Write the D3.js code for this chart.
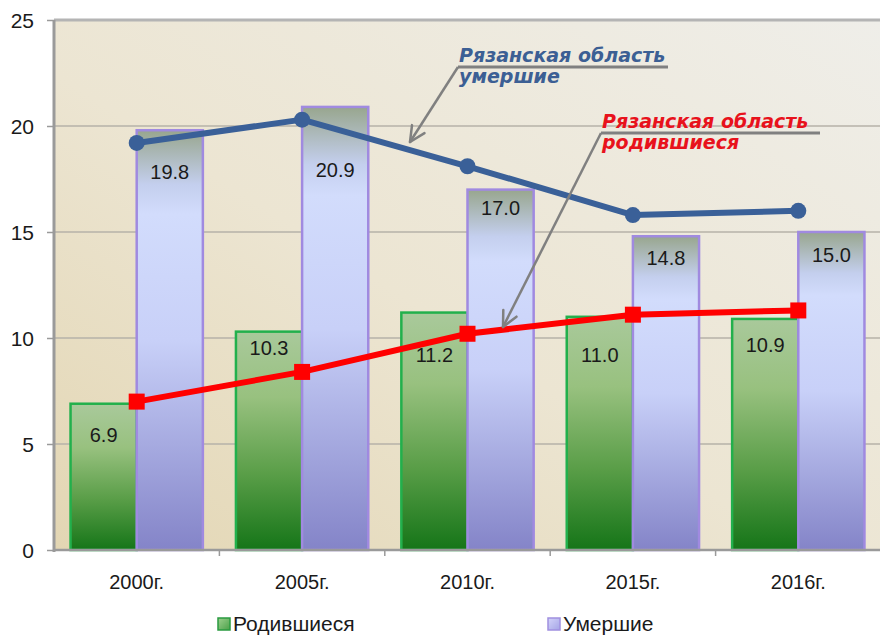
<!DOCTYPE html>
<html><head><meta charset="utf-8">
<script src="https://cdn.jsdelivr.net/npm/d3@7"></script>
<style>html,body{margin:0;padding:0;background:#fff;}svg{display:block;}</style>
</head><body><svg id="c" width="882" height="637"></svg>
<script>
// ---- data ----
const categories = ["2000г.", "2005г.", "2010г.", "2015г.", "2016г."];
const seriesNames = ["Родившиеся", "Умершие"];
const births = [6.9, 10.3, 11.2, 11.0, 10.9];
const deaths = [19.8, 20.9, 17.0, 14.8, 15.0];
const regionDeathsLine = [19.2, 20.3, 18.1, 15.8, 16.0];
const regionBirthsLine = [7.0, 8.4, 10.2, 11.1, 11.3];
const yTicks = [0, 5, 10, 15, 20, 25];
const annDeaths = ["Рязанская область", "умершие"];
const annBirths = ["Рязанская область", "родившиеся"];
// label nudges (px below bar top) -- layout only
const birthLabelDy = [31, 16, 42, 38, 26];
const deathLabelDy = [42, 63, 18, 22, 23];

const svg = d3.select("#c");
const L = 54, R = 880, T = 20, B = 550;
const x = d3.scaleBand().domain(categories).range([L, R + 1]);
const bw = x.bandwidth();
const xs = d3.scaleBand().domain(seriesNames).range([bw * 0.1, bw * 0.9]);
const y = d3.scaleLinear().domain([0, 25]).range([B, T]);

const defs = svg.append("defs");
function grad(id, stops, x1 = 0, y1 = 0, x2 = 0, y2 = 1) {
  const g = defs.append("linearGradient").attr("id", id)
    .attr("x1", x1).attr("y1", y1).attr("x2", x2).attr("y2", y2);
  stops.forEach(s => g.append("stop").attr("offset", s[0]).attr("stop-color", s[1]));
}
grad("bg", [[0, "#efeee9"], [0.55, "#ece5d2"], [1, "#e3d6b3"]], 1, 0, 0, 1);
grad("gGreen", [[0, "#a9c99b"], [0.3, "#98c17f"], [0.65, "#5a9e48"], [1, "#157518"]]);
grad("gPurple", [[0, "#98a68e"], [0.13, "#c4cfee"], [0.2, "#d2dcfc"], [0.5, "#c8d0f8"], [1, "#8484c8"]]);
grad("lgGreen", [[0, "#9ed08e"], [1, "#4aa048"]], 0, 0, 1, 1);
grad("lgPurple", [[0, "#d4d4fa"], [1, "#a4a4e6"]], 0, 0, 1, 1);

// background
svg.append("rect").attr("x", L).attr("y", T).attr("width", R - L).attr("height", B - T).attr("fill", "url(#bg)");
// gridlines
svg.append("g").selectAll("line").data(yTicks.filter(t => t > 0 && t < 25)).join("line")
  .attr("x1", L).attr("x2", R).attr("y1", d => y(d)).attr("y2", d => y(d))
  .attr("stroke", "#b6b2a8").attr("stroke-width", 1.5);
// top border
svg.append("line").attr("x1", L).attr("x2", R).attr("y1", T).attr("y2", T)
  .attr("stroke", "#b4b4b4").attr("stroke-width", 3);

// bars
const g = svg.append("g");
g.selectAll("rect.b").data(births).join("rect").attr("class", "b")
  .attr("x", (d, i) => x(categories[i]) + xs("Родившиеся"))
  .attr("width", xs.bandwidth())
  .attr("y", d => y(d)).attr("height", d => B - y(d))
  .attr("fill", "url(#gGreen)").attr("stroke", "#22b04c").attr("stroke-width", 2.5);
g.selectAll("rect.d").data(deaths).join("rect").attr("class", "d")
  .attr("x", (d, i) => x(categories[i]) + xs("Умершие"))
  .attr("width", xs.bandwidth())
  .attr("y", d => y(d)).attr("height", d => B - y(d))
  .attr("fill", "url(#gPurple)").attr("stroke", "#a08ae0").attr("stroke-width", 2.5);

// labels
const lblFont = "'Liberation Sans', Arial, sans-serif";
g.selectAll("text.bl").data(births).join("text").attr("class", "bl")
  .attr("x", (d, i) => x(categories[i]) + xs("Родившиеся") + xs.bandwidth() / 2)
  .attr("y", (d, i) => y(d) + birthLabelDy[i] + 7)
  .attr("text-anchor", "middle").attr("font-family", lblFont).attr("font-size", 20)
  .attr("fill", "#1a1a1a").text(d => d.toFixed(1));
g.selectAll("text.dl").data(deaths).join("text").attr("class", "dl")
  .attr("x", (d, i) => x(categories[i]) + xs("Умершие") + xs.bandwidth() / 2)
  .attr("y", (d, i) => y(d) + deathLabelDy[i] + 7)
  .attr("text-anchor", "middle").attr("font-family", lblFont).attr("font-size", 20)
  .attr("fill", "#1a1a1a").text(d => d.toFixed(1));

// axes
const yAxis = d3.axisLeft(y).tickValues(yTicks).tickSize(7).tickPadding(13);
const ya = svg.append("g").attr("transform", `translate(${L},0)`).call(yAxis);
ya.select(".domain").attr("stroke", "#9a9a9a").attr("stroke-width", 3).attr("d", `M0,${T}V${B + 2}`);
ya.selectAll(".tick line").attr("stroke", "#9a9a9a").attr("stroke-width", 1.5);
ya.selectAll("text").attr("font-family", lblFont).attr("font-size", 21).attr("fill", "#1a1a1a").attr("dy", "0.35em");

const xAxis = d3.axisBottom(x).tickSize(0).tickPadding(25);
const xa = svg.append("g").attr("transform", `translate(0,${B})`).call(xAxis);
xa.select(".domain").attr("stroke", "#9a9a9a").attr("stroke-width", 2.5).attr("d", `M${L},0H${R}`);
xa.selectAll("text").attr("font-family", lblFont).attr("font-size", 20).attr("fill", "#1a1a1a");
xa.append("g").selectAll("line").data(categories.slice(1)).join("line")
  .attr("x1", d => x(d)).attr("x2", d => x(d)).attr("y1", 0).attr("y2", 6)
  .attr("stroke", "#9a9a9a").attr("stroke-width", 1.5);

// lines
const cx = i => x(categories[i]) + bw / 2;
const line = d3.line().x((d, i) => cx(i)).y(d => y(d));
svg.append("path").datum(regionDeathsLine).attr("d", line)
  .attr("fill", "none").attr("stroke", "#3a6098").attr("stroke-width", 6).attr("stroke-linejoin", "round");
svg.selectAll("circle.m").data(regionDeathsLine).join("circle").attr("class", "m")
  .attr("cx", (d, i) => cx(i)).attr("cy", d => y(d)).attr("r", 8).attr("fill", "#3a6098");
svg.append("path").datum(regionBirthsLine).attr("d", line)
  .attr("fill", "none").attr("stroke", "#ff0000").attr("stroke-width", 6).attr("stroke-linejoin", "round");
svg.selectAll("rect.m").data(regionBirthsLine).join("rect").attr("class", "m")
  .attr("x", (d, i) => cx(i) - 8).attr("y", d => y(d) - 8).attr("width", 16).attr("height", 16).attr("fill", "#ff0000");

// annotations
function annotation(lines, color, tx, ty, ulx2, uly, tipx, tipy) {
  const a = svg.append("g");
  a.append("line").attr("x1", tx).attr("y1", uly).attr("x2", ulx2).attr("y2", uly)
    .attr("stroke", "#808080").attr("stroke-width", 3);
  a.append("line").attr("x1", tx).attr("y1", uly).attr("x2", tipx).attr("y2", tipy)
    .attr("stroke", "#808080").attr("stroke-width", 2.5);
  const ang = Math.atan2(uly - tipy, tx - tipx);
  const hl = 17, spread = 0.45;
  [ang - spread, ang + spread].forEach(aa => {
    a.append("line").attr("x1", tipx).attr("y1", tipy)
      .attr("x2", tipx + hl * Math.cos(aa)).attr("y2", tipy + hl * Math.sin(aa))
      .attr("stroke", "#808080").attr("stroke-width", 2.5).attr("stroke-linecap", "round");
  });
  lines.forEach((t, i) => {
    a.append("text").attr("x", tx + 1).attr("y", i === 0 ? ty : ty + 21)
      .attr("font-family", "'DejaVu Sans', Verdana, sans-serif").attr("font-weight", "bold")
      .attr("font-style", "italic").attr("font-size", 19).attr("fill", color).text(t);
  });
}
annotation(annDeaths, "#3c5f94", 458, 62, 668, 67, 410, 142);
annotation(annBirths, "#e8121c", 601, 128, 820, 133, 503, 327);

// legend
const lg = svg.append("g");
const legendItems = [{ name: seriesNames[0], x: 218, fill: "url(#lgGreen)", stroke: "#2a9a40" },
                     { name: seriesNames[1], x: 548, fill: "url(#lgPurple)", stroke: "#a090e0" }];
legendItems.forEach(it => {
  lg.append("rect").attr("x", it.x).attr("y", 618).attr("width", 12).attr("height", 12)
    .attr("fill", it.fill).attr("stroke", it.stroke).attr("stroke-width", 1.5);
  lg.append("text").attr("x", it.x + 15).attr("y", 631).attr("font-family", lblFont)
    .attr("font-size", 21).attr("fill", "#1a1a1a").text(it.name);
});
</script></body></html>
